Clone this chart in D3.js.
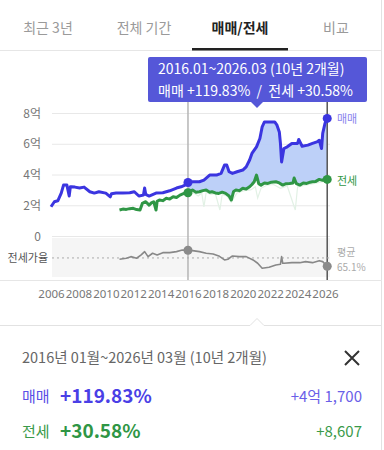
<!DOCTYPE html>
<html><head><meta charset="utf-8">
<script src="https://cdn.jsdelivr.net/npm/d3@7"></script>
<style>
html,body{margin:0;padding:0;background:#fff;}
svg{display:block;font-family:"Noto Sans CJK KR","Noto Sans",sans-serif;}
</style></head>
<body><svg id="c" width="384" height="450"></svg>
<script>
const tabs = ["최근 3년","전체 기간","매매/전세","비교"];
const activeTab = 2;
const yTicks = [0,2,4,6,8];
const yTickLabels = ["0","2억","4억","6억","8억"];
const xTickYears = [2006,2008,2010,2012,2014,2016,2018,2020,2022,2024,2026];

// 매매 (억)
const saleDates = ["2006-01","2006-04","2006-07","2006-10","2006-12","2007-03","2007-05","2007-06","2007-07","2007-10","2008-02","2008-06","2008-11","2009-03","2009-07","2010-01","2010-05","2010-06","2010-10","2011-04","2011-10","2012-02","2012-06","2012-10","2012-11","2012-12","2013-03","2013-09","2014-03","2014-09","2015-03","2015-07","2015-10","2016-01","2016-05","2016-11","2017-03","2017-08","2018-02","2018-06","2018-09","2018-11","2019-01","2019-04","2019-08","2020-01","2020-04","2020-07","2020-09","2021-01","2021-04","2021-06","2021-08","2021-11","2022-05","2022-07","2022-09","2022-10","2022-11","2023-01","2023-04","2023-08","2024-01","2024-02","2024-05","2024-10","2025-02","2025-06","2025-08","2025-10","2025-11","2026-01","2026-03"];
const saleValues = [1.90,2.23,2.29,2.79,3.31,3.31,2.60,3.20,3.20,3.18,3.12,3.18,2.88,2.79,2.88,2.79,2.55,2.75,2.79,2.79,2.81,2.88,2.60,2.66,3.12,2.70,2.60,2.79,2.81,2.94,3.12,3.20,3.30,3.48,3.53,3.53,3.64,3.96,3.96,4.07,4.61,4.61,4.18,4.07,4.18,4.29,4.50,4.94,5.37,5.80,6.34,7.10,7.42,7.42,7.42,7.21,6.77,6.02,4.82,5.69,5.80,6.02,6.02,6.28,5.84,5.91,6.02,6.12,6.23,5.69,6.67,7.32,7.65];

// 전세 (억)
const rentDates = ["2011-01","2011-04","2011-07","2011-10","2012-01","2012-04","2012-07","2012-09","2012-12","2013-03","2013-05","2013-07","2013-09","2013-10","2013-12","2014-03","2014-06","2014-09","2014-12","2015-03","2015-06","2015-09","2015-12","2016-01","2016-05","2016-08","2016-11","2017-02","2017-05","2017-08","2017-10","2018-01","2018-04","2018-07","2018-10","2019-01","2019-03","2019-05","2019-07","2019-10","2020-01","2020-04","2020-07","2020-09","2020-11","2021-01","2021-03","2021-05","2021-08","2021-11","2022-02","2022-06","2022-09","2022-12","2023-03","2023-06","2023-09","2023-10","2023-12","2024-03","2024-06","2024-09","2024-12","2025-02","2025-05","2025-08","2025-11","2026-01","2026-03"];
const rentValues = [1.69,1.75,1.73,1.78,1.80,1.72,1.69,2.12,2.23,2.01,2.15,2.23,1.69,2.25,2.34,2.30,2.45,2.40,2.55,2.50,2.66,2.75,2.88,2.81,2.99,2.85,2.88,2.95,2.99,2.85,2.88,2.80,2.77,2.85,2.77,2.60,2.34,2.90,2.99,2.95,3.10,3.05,3.20,3.35,3.53,3.96,3.40,3.31,3.45,3.42,3.50,3.53,3.45,3.31,3.40,3.42,3.45,3.77,3.40,3.31,3.45,3.42,3.50,3.53,3.55,3.68,3.62,3.75,3.68];

// 전세 하단 (faint)
const rentLowDates = ["2016-01","2016-06","2016-10","2017-01","2017-03","2017-05","2017-09","2018-01","2018-05","2018-07","2018-11","2019-03","2019-08","2020-02","2020-08","2020-12","2021-02","2021-05","2021-10","2022-04","2022-10","2023-04","2023-11","2024-01","2024-08","2025-03","2025-09","2026-03"];
const rentLowValues = [2.75,2.80,2.60,2.80,1.90,2.85,2.70,2.75,1.69,2.70,2.60,2.20,2.80,2.95,3.00,3.20,2.47,3.10,3.30,3.35,3.10,3.25,1.69,3.20,3.30,3.40,3.50,3.60];

// 전세가율 (%)
const ratioDates = ["2011-01","2011-07","2011-11","2012-04","2012-08","2012-11","2013-02","2013-06","2013-10","2014-03","2014-09","2015-03","2015-08","2016-01","2016-05","2016-11","2017-05","2017-11","2018-04","2018-09","2018-12","2019-04","2019-10","2020-04","2020-10","2021-02","2021-06","2021-12","2022-06","2022-10","2022-11","2022-12","2023-01","2023-08","2024-03","2024-08","2025-02","2025-08","2025-11","2026-03"];
const ratioValues = [62.4,64.5,67.8,64.5,71.3,78.1,67.8,74.8,71.3,76.0,76.0,78.1,81.6,81.0,80.1,78.1,74.8,73.3,69.2,61.0,62.4,69.2,67.8,67.8,61.0,54.2,43.9,46.0,50.7,52.0,67.8,54.2,54.2,55.4,55.4,57.5,55.4,59.5,57.5,48.0];
const ratioAvg = 65.1;

const rangeStart = "2016-01", rangeEnd = "2026-03";

const parse = d3.timeParse("%Y-%m");
const zip = (ds, vs) => ds.map((d,i)=>({date:parse(d), v:vs[i]}));
const sale = zip(saleDates, saleValues);
const rent = zip(rentDates, rentValues);
const rentLow = zip(rentLowDates, rentLowValues);
const ratio = zip(ratioDates, ratioValues);
const t0 = parse(rangeStart), t1 = parse(rangeEnd);

const svg = d3.select("#c");
const x = d3.scaleTime().domain([new Date(2006,0,1), new Date(2026,0,1)]).range([51,325]);
const y = d3.scaleLinear().domain([0,8]).range([236,113]);
const yr = d3.scaleLinear().domain([30,100]).range([275,241]);

const BLUE="#3b35e0", GREEN="#2f9645", TIP="#5557d8";

// tabs
const tw = 96;
svg.append("line").attr("x1",0).attr("x2",382).attr("y1",50.5).attr("y2",50.5).attr("stroke","#e6e6e6");
tabs.forEach((t,i)=>{
  svg.append("text").attr("x",i*tw+tw/2).attr("y",33).attr("text-anchor","middle")
    .attr("font-size",14).attr("fill", i===activeTab?"#222":"#9a9a9a")
    .attr("font-weight", i===activeTab?"bold":"normal").text(t);
});
svg.append("rect").attr("x",activeTab*tw).attr("y",48).attr("width",tw).attr("height",2.5).attr("fill","#222");
svg.append("line").attr("x1",381.5).attr("x2",381.5).attr("y1",0).attr("y2",450).attr("stroke","#e2e2e2");

// lower panel background
svg.append("rect").attr("x",52).attr("y",238).attr("width",278).attr("height",39).attr("fill","#f5f5f5");

// gridlines + y labels
const gy = svg.append("g");
yTicks.forEach((v,i)=>{
  gy.append("line").attr("x1",52).attr("x2",330).attr("y1",y(v)+0.5).attr("y2",y(v)+0.5).attr("stroke","#e8e8e8");
  gy.append("text").attr("x",41).attr("y",y(v)+4.5).attr("text-anchor","end").attr("font-size",12).attr("fill","#777").text(yTickLabels[i]);
});

// fill between 매매 and 전세 over range
const saleR = sale.filter(d=>d.date>=t0 && d.date<=t1);
const rentR = rent.filter(d=>d.date>=t0 && d.date<=t1);
const poly = saleR.concat(rentR.slice().reverse());
svg.append("path").attr("d", d3.line().x(d=>x(d.date)).y(d=>y(d.v))(poly)+"Z")
  .attr("fill","#b9cdf8").attr("opacity",0.95);

// faint 전세 low
svg.append("path").datum(rentLow).attr("d", d3.line().x(d=>x(d.date)).y(d=>y(d.v)))
  .attr("fill","none").attr("stroke","#e2f1e5").attr("stroke-width",1.2);

// vertical markers
svg.append("line").attr("x1",x(t0)).attr("x2",x(t0)).attr("y1",102).attr("y2",281).attr("stroke","#b5b5b5").attr("stroke-width",1.5);
svg.append("line").attr("x1",x(t1)).attr("x2",x(t1)).attr("y1",102).attr("y2",281).attr("stroke","#555").attr("stroke-width",1.5);

// lines
const ln = d3.line().x(d=>x(d.date)).y(d=>y(d.v)).curve(d3.curveLinear);
svg.append("path").datum(rent).attr("d",ln).attr("fill","none").attr("stroke",GREEN).attr("stroke-width",3).attr("stroke-linejoin","round");
svg.append("path").datum(sale).attr("d",ln).attr("fill","none").attr("stroke",BLUE).attr("stroke-width",3).attr("stroke-linejoin","round");

// points
const find = (arr,t)=>arr.find(d=>+d.date===+t);
[[sale,BLUE],[rent,GREEN]].forEach(([arr,c])=>{
  [t0,t1].forEach(t=>{
    const p = find(arr,t);
    svg.append("circle").attr("cx",x(p.date)).attr("cy",y(p.v)).attr("r",4.5).attr("fill",c);
  });
});
svg.append("text").attr("x",337).attr("y",y(find(sale,t1).v)+5).attr("font-size",11).attr("fill","#8a84ee").text("매매");
svg.append("text").attr("x",337).attr("y",y(find(rent,t1).v)+6).attr("font-size",11).attr("fill",GREEN).text("전세");

// ratio panel
svg.append("line").attr("x1",52).attr("x2",330).attr("y1",yr(ratioAvg)).attr("y2",yr(ratioAvg))
  .attr("stroke","#aaa").attr("stroke-width",1).attr("stroke-dasharray","2,3");
svg.append("text").attr("x",48).attr("y",yr(ratioAvg)+4).attr("text-anchor","end").attr("font-size",11).attr("fill","#555").text("전세가율");
svg.append("path").datum(ratio).attr("d", d3.line().x(d=>x(d.date)).y(d=>yr(d.v)))
  .attr("fill","none").attr("stroke","#888").attr("stroke-width",1.6).attr("stroke-linejoin","round");
[t0,t1].forEach(t=>{
  const p = find(ratio,t);
  svg.append("circle").attr("cx",x(p.date)).attr("cy",yr(p.v)).attr("r",4.5).attr("fill","#8a8a8a");
});
svg.append("text").attr("x",337).attr("y",256).attr("font-size",10).attr("fill","#aaa").text("평균");
svg.append("text").attr("x",337).attr("y",271).attr("font-size",10).attr("fill","#aaa").text(ratioAvg.toFixed(1)+"%");

// x axis
svg.append("line").attr("x1",0).attr("x2",382).attr("y1",280.5).attr("y2",280.5).attr("stroke","#e6e6e6");
const xa = svg.append("g").attr("transform","translate(0,287)")
  .call(d3.axisBottom(x).tickValues(xTickYears.map(yv=>new Date(yv,0,1))).tickFormat(d3.timeFormat("%Y")).tickSize(0));
xa.select(".domain").remove();
xa.selectAll("text").attr("font-size",11.5).attr("fill","#777").attr("font-family","'Noto Sans',sans-serif");

// tooltip
const tipX0 = 148, tipX1 = 367, tipY0 = 57, tipY1 = 102, tipC = 257;
svg.append("rect").attr("x",tipX0).attr("y",tipY0).attr("width",tipX1-tipX0).attr("height",tipY1-tipY0).attr("rx",2).attr("fill",TIP);
svg.append("path").attr("d",`M${tipC-6},${tipY1} L${tipC+6},${tipY1} L${tipC},${tipY1+6} Z`).attr("fill",TIP);
svg.append("text").attr("x",158).attr("y",74).attr("font-size",14).attr("fill","#fff").text("2016.01~2026.03 (10년 2개월)");
svg.append("text").attr("x",158).attr("y",96).attr("font-size",14).attr("fill","#fff").attr("xml:space","preserve").text("매매 +119.83%  /  전세 +30.58%");

// bottom panel
svg.append("path").attr("d","M0,325.5 L250,325.5 L257,318.5 L264,325.5 L382,325.5").attr("fill","none").attr("stroke","#e2e2e2");
svg.append("text").attr("x",22).attr("y",363).attr("font-size",14.5).attr("fill","#666").text("2016년 01월~2026년 03월 (10년 2개월)");
svg.append("path").attr("d","M345,351 L359,365 M359,351 L345,365").attr("stroke","#333").attr("stroke-width",2);
svg.append("text").attr("x",22).attr("y",402).attr("font-size",15).attr("fill","#5a50e6").text("매매");
svg.append("text").attr("x",60).attr("y",403).attr("font-size",19).attr("font-weight","bold").attr("fill","#4a3fe6").text("+119.83%");
svg.append("text").attr("x",362).attr("y",402).attr("text-anchor","end").attr("font-size",15).attr("fill","#6a5fe8").text("+4억 1,700");
svg.append("text").attr("x",22).attr("y",437).attr("font-size",15).attr("fill","#3a9a4a").text("전세");
svg.append("text").attr("x",60).attr("y",438).attr("font-size",19).attr("font-weight","bold").attr("fill","#2f9645").text("+30.58%");
svg.append("text").attr("x",362).attr("y",437).attr("text-anchor","end").attr("font-size",15).attr("fill","#3a9a4a").text("+8,607");
</script></body></html>
